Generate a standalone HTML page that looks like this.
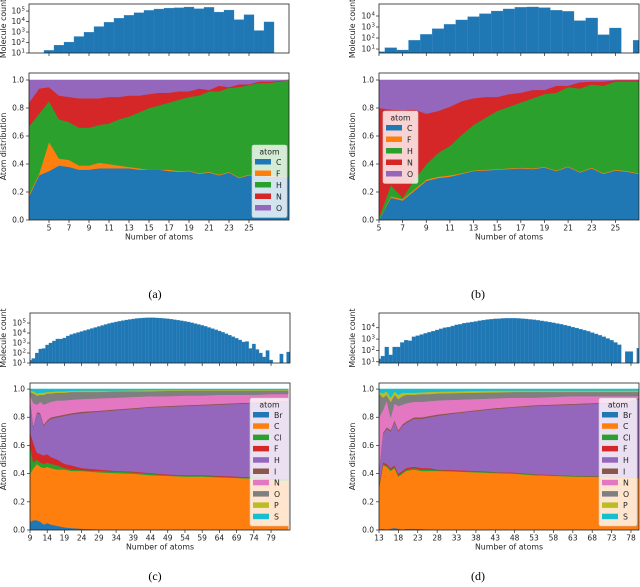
<!DOCTYPE html>
<html><head><meta charset="utf-8"><style>
html,body{margin:0;padding:0;background:#fff;}
svg{display:block;font-family:"DejaVu Sans","Liberation Sans",sans-serif;}
.cap{font-family:"Liberation Serif",serif;font-size:12px;}
</style></head><body>
<svg id="fig" width="640" height="587" viewBox="0 0 640 587" xmlns="http://www.w3.org/2000/svg"></svg>
<script>
// ===== Panel (a) data =====
const aHistX = [5,6,7,8,9,10,11,12,13,14,15,16,17,18,19,20,21,22,23,24,25,26,27];
const aHistLog = [1.25,1.75,2.04,2.57,2.98,3.52,3.93,4.31,4.59,4.84,5.06,5.19,5.28,5.31,5.38,5.22,5.35,4.9,5.09,4.18,4.65,3.14,3.96];
const aX = [3,4,5,6,7,8,9,10,11,12,13,14,15,16,17,18,19,20,21,22,23,24,25,26,27,28,29];
const aTopC = [.17,.32,.35,.39,.38,.36,.36,.37,.37,.37,.37,.36,.36,.36,.35,.345,.35,.33,.34,.32,.34,.30,.32,.32,.31,.31,.31];
const aTopF = [.18,.33,.56,.44,.43,.39,.39,.41,.40,.39,.38,.37,.36,.36,.36,.35,.355,.335,.345,.325,.345,.305,.325,.325,.315,.315,.31];
const aTopH = [.67,.76,.85,.72,.70,.66,.66,.68,.69,.72,.74,.77,.80,.82,.84,.86,.88,.89,.92,.92,.945,.95,.965,.98,.98,.99,1.0];
const aTopN = [.84,.94,.95,.89,.88,.87,.87,.87,.88,.88,.89,.89,.90,.91,.91,.92,.92,.94,.93,.96,.95,.97,.97,.99,.99,.995,1.0];
const aTopO = aX.map(()=>1);
// ===== Panel (b) data =====
const bHistX = [5,6,7,8,9,10,11,12,13,14,15,16,17,18,19,20,21,22,23,24,25,26,27];
const bHistLog = [0.76,1.12,0.91,1.79,2.33,2.85,3.24,3.64,3.94,4.21,4.45,4.64,4.79,4.82,4.76,4.52,4.42,3.58,3.82,2.30,2.91,null,1.79];
const bX = [5,6,7,8,9,10,11,12,13,14,15,16,17,18,19,20,21,22,23,24,25,26,27];
const bTopC = [0,.16,.14,.21,.28,.30,.31,.33,.35,.355,.36,.365,.37,.365,.375,.35,.38,.34,.37,.33,.355,.345,.33];
const bTopF = [0,.17,.15,.22,.29,.31,.32,.335,.355,.36,.365,.37,.375,.37,.38,.355,.385,.345,.375,.335,.36,.35,.335];
const bTopH = [.02,.25,.16,.29,.40,.48,.53,.61,.68,.73,.78,.81,.84,.87,.90,.91,.95,.94,.97,.96,.99,.99,.99];
const bTopN = [.80,.79,.785,.79,.76,.78,.81,.85,.87,.88,.88,.90,.91,.93,.93,.96,.96,.985,.99,.99,1.0,1.0,1.0];
const bTopO = bX.map(()=>1);
// ===== Panel (c) data =====
const cHistX = [9,10,11,12,13,14,15,16,17,18,19,20,21,22,23,24,25,26,27,28,29,30,31,32,33,34,35,36,37,38,39,40,41,42,43,44,45,46,47,48,49,50,51,52,53,54,55,56,57,58,59,60,61,62,63,64,65,66,67,68,69,70,71,72,73,74,75,76,77,78,79,80,81,82,83,84];
const cHistLog = [1.27,1.45,2.0,2.4,2.45,2.8,3.0,3.2,3.4,3.4,3.5,3.7,3.85,3.95,4.05,4.15,4.25,4.35,4.45,4.55,4.65,4.75,4.85,4.95,5.03,5.1,5.17,5.24,5.3,5.35,5.4,5.45,5.48,5.5,5.52,5.53,5.52,5.5,5.48,5.45,5.42,5.38,5.33,5.28,5.22,5.16,5.1,5.02,4.94,4.85,4.76,4.66,4.55,4.44,4.32,4.2,4.07,3.93,3.78,3.63,3.47,3.3,3.1,3.15,2.45,2.9,2.35,2.0,1.6,2.25,1.3,null,null,1.9,null,2.1];
const cX = [9,10,11,12,13,14,15,17,19,21,24,29,34,39,44,49,54,59,64,69,74,79,84];
const cTopBr = [.06,.07,.07,.06,.04,.05,.04,.03,.02,.015,.01,.006,.004,.002,.001,0,0,0,0,0,0,0,0];
const cTopC = [.40,.44,.47,.45,.44,.45,.44,.43,.43,.42,.42,.41,.405,.40,.39,.385,.38,.38,.375,.37,.365,.355,.35];
const cTopCl = [.60,.48,.50,.48,.47,.48,.47,.46,.44,.43,.425,.42,.415,.41,.40,.39,.385,.385,.38,.375,.37,.36,.355];
const cTopF = [.70,.62,.55,.54,.53,.54,.52,.50,.47,.46,.44,.43,.42,.415,.405,.395,.39,.39,.385,.38,.375,.365,.36];
const cTopH = [.93,.73,.83,.82,.74,.77,.79,.80,.81,.82,.83,.84,.85,.86,.87,.875,.88,.885,.89,.895,.90,.905,.91];
const cTopI = [.94,.74,.84,.83,.75,.78,.80,.81,.82,.83,.84,.847,.857,.866,.876,.881,.886,.891,.896,.901,.906,.911,.916];
const cTopN = [.96,.90,.89,.91,.89,.90,.91,.92,.92,.925,.93,.935,.94,.945,.95,.95,.955,.955,.96,.96,.96,.965,.965];
const cTopO = [.98,.97,.955,.96,.96,.97,.97,.975,.975,.98,.98,.98,.985,.985,.985,.988,.99,.99,.99,.99,.99,.99,.99];
const cTopP = [.99,.985,.97,.975,.975,.98,.98,.985,.985,.988,.99,.99,.99,.992,.993,.994,.995,.995,.995,.995,.995,.995,.995];
const cTopS = cX.map(()=>1);
// ===== Panel (d) data =====
const dHistX = [13,14,15,16,17,18,19,20,21,22,23,24,25,26,27,28,29,30,31,32,33,34,35,36,37,38,39,40,41,42,43,44,45,46,47,48,49,50,51,52,53,54,55,56,57,58,59,60,61,62,63,64,65,66,67,68,69,70,71,72,73,74,75,76,77,78,79,80];
const dHistLog = [1.25,1.5,2.3,1.6,2.3,2.3,2.7,2.9,2.85,3.2,3.3,3.4,3.5,3.6,3.7,3.8,3.9,4.0,4.05,4.15,4.25,4.3,4.4,4.45,4.5,4.55,4.62,4.67,4.72,4.75,4.78,4.8,4.82,4.83,4.83,4.83,4.82,4.8,4.77,4.73,4.7,4.65,4.6,4.55,4.5,4.43,4.37,4.3,4.22,4.15,4.05,3.97,3.87,3.78,3.68,3.57,3.45,3.33,3.2,3.05,2.9,2.7,2.5,null,1.9,1.9,null,2.2];
const dX = [13,14,15,16,17,18,19,20,22,24,26,28,33,38,43,48,53,58,63,68,73,78,80];
const dTopBr = [.005,.01,.005,.01,.015,.01,.005,.01,.01,.008,.005,.003,.002,.001,0,0,0,0,0,0,0,0,0];
const dTopC = [.30,.46,.45,.42,.44,.38,.40,.42,.43,.42,.42,.42,.415,.41,.405,.40,.39,.385,.38,.378,.375,.37,.37];
const dTopCl = [.31,.47,.46,.43,.45,.39,.41,.43,.44,.43,.43,.425,.42,.415,.41,.405,.395,.39,.384,.382,.379,.374,.373];
const dTopF = [.33,.48,.47,.44,.46,.40,.42,.44,.45,.44,.44,.43,.425,.42,.413,.408,.398,.392,.386,.384,.381,.376,.375];
const dTopH = [.42,.68,.72,.70,.77,.70,.74,.76,.79,.79,.80,.81,.83,.845,.86,.87,.88,.885,.89,.895,.90,.91,.93];
const dTopI = [.43,.69,.73,.71,.78,.71,.75,.77,.80,.80,.81,.82,.836,.851,.866,.876,.886,.891,.896,.901,.906,.916,.936];
const dTopN = [.80,.85,.92,.80,.90,.88,.89,.90,.91,.91,.915,.92,.925,.93,.935,.94,.94,.945,.95,.95,.95,.95,.95];
const dTopO = [.97,.94,.96,.91,.96,.93,.95,.96,.96,.965,.965,.97,.972,.975,.977,.98,.98,.98,.98,.98,.98,.98,.98];
const dTopP = [.98,.97,.985,.94,.985,.96,.975,.975,.975,.978,.98,.982,.985,.988,.99,.99,.99,.99,.99,.99,.99,.99,.99];
const dTopS = dX.map(()=>1);
const distTicks = [0,0.2,0.4,0.6,0.8,1.0];

const NS = "http://www.w3.org/2000/svg";
const svg = document.getElementById('fig');
function mk(tag, attrs, parent){
  const e = document.createElementNS(NS, tag);
  for (const k in attrs) e.setAttribute(k, attrs[k]);
  (parent||svg).appendChild(e);
  return e;
}
const COL = {Br:'#1f77b4',C:'#ff7f0e',Cl:'#2ca02c',F:'#d62728',H:'#9467bd',I:'#8c564b',N:'#e377c2',O:'#7f7f7f',P:'#bcbd22',S:'#17becf'};
const COL5 = {C:'#1f77b4',F:'#ff7f0e',H:'#2ca02c',N:'#d62728',O:'#9467bd'};

function panel(p){
  const g = mk('g', {});
  
  
  const sx = v => p.L + (v - p.x0) / (p.x1 - p.x0) * (p.R - p.L);
  const sh = v => p.hB - (v - p.lg0) / (p.lg1 - p.lg0) * (p.hB - p.hT);
  const sd = v => p.dB - v / p.yMax * (p.dB - p.dT);
  const cp = mk('clipPath', {id:'clipH'+p.id}, g);
  mk('rect', {x:p.L, y:p.hT, width:p.R-p.L, height:p.hB-p.hT}, cp);
  const cp2 = mk('clipPath', {id:'clipD'+p.id}, g);
  mk('rect', {x:p.L, y:p.dT, width:p.R-p.L, height:p.dB-p.dT}, cp2);
  const hg = mk('g', {'clip-path':'url(#clipH'+p.id+')'}, g);
  
  
  p.hx.forEach((x,i)=>{
    const v = p.hv[i];
    if (v === null) return;
    const x0 = sx(x-0.5), x1 = sx(x+0.5), y = sh(v);
    const r = mk('rect', {x:x0, y:y, width:x1-x0, height:p.hB-y, fill:'#1f77b4', stroke:'#3a87c0', 'stroke-width':0.3}, hg);
    
    
  });
  mk('rect', {x:p.L, y:p.hT, width:p.R-p.L, height:p.hB-p.hT, fill:'none', stroke:'#222', 'stroke-width':0.8}, g);
  p.logTicks.forEach(e=>{
    const y = sh(e);
    mk('line', {x1:p.L-3, x2:p.L, y1:y, y2:y, stroke:'#222', 'stroke-width':0.7}, g);
    const t = mk('text', {x:p.L-8, y:y+2.5, 'font-size':7.5, 'text-anchor':'end', fill:'#222'}, g);
    t.textContent = '10';
    const s = mk('text', {x:p.L-4, y:y-0.5, 'font-size':5.5, 'text-anchor':'end', fill:'#222'}, g);
    s.textContent = String(e);
  });
  const dg = mk('g', {'clip-path':'url(#clipD'+p.id+')'}, g);
  
  
  let prev = p.dx.map(()=>0);
  p.series.forEach(s=>{
    const top = s.vals;
    let d = '';
    p.dx.forEach((x,i)=>{ d += (i?'L':'M') + sx(x).toFixed(2) + ',' + sd(top[i]).toFixed(2); });
    for (let i=p.dx.length-1;i>=0;i--) d += 'L' + sx(p.dx[i]).toFixed(2) + ',' + sd(prev[i]).toFixed(2);
    d += 'Z';
    const pa = mk('path', {d:d, fill:s.c, stroke:s.c, 'stroke-width':0.6, 'stroke-linejoin':'round'}, dg);
    
    
    prev = top;
  });
  mk('rect', {x:p.L, y:p.dT, width:p.R-p.L, height:p.dB-p.dT, fill:'none', stroke:'#222', 'stroke-width':0.8}, g);
  distTicks.forEach(v=>{
    const y = sd(v);
    mk('line', {x1:p.L-3, x2:p.L, y1:y, y2:y, stroke:'#222', 'stroke-width':0.7}, g);
    const t = mk('text', {x:p.L-5, y:y+2.5, 'font-size':7.5, 'text-anchor':'end', fill:'#222'}, g);
    t.textContent = v.toFixed(1);
  });
  for (let v=p.t0; v<=p.t1; v+=p.ts){
    const x = sx(v);
    mk('line', {x1:x, x2:x, y1:p.dB, y2:p.dB+3, stroke:'#222', 'stroke-width':0.7}, g);
    mk('line', {x1:x, x2:x, y1:p.hB, y2:p.hB+3, stroke:'#222', 'stroke-width':0.7}, g);
    const t = mk('text', {x:x, y:p.dB+10.5, 'font-size':7.5, 'text-anchor':'middle', fill:'#222'}, g);
    t.textContent = String(v);
  }
  const xl = mk('text', {x:(p.L+p.R)/2, y:p.dB+19.5, 'font-size':7.8, 'text-anchor':'middle', fill:'#222'}, g);
  
  
  xl.textContent = 'Number of atoms';
  const yl1 = mk('text', {x:0, y:0, 'font-size':7.8, 'text-anchor':'middle', fill:'#222', transform:'translate('+p.ylx+','+((p.hT+p.hB)/2)+') rotate(-90)'}, g);
  
  
  yl1.textContent = 'Molecule count';
  const yl2 = mk('text', {x:0, y:0, 'font-size':7.8, 'text-anchor':'middle', fill:'#222', transform:'translate('+p.ylx+','+((p.dT+p.dB)/2)+') rotate(-90)'}, g);
  
  
  yl2.textContent = 'Atom distribution';
  const lg = mk('g', {}, g);
  
  
  const n = p.series.length;
  const h = 15 + n*p.lsp;
  mk('rect', {x:p.lx, y:p.ly, width:p.lw, height:h, rx:2, fill:'#fff', 'fill-opacity':0.8, stroke:'#ccc', 'stroke-width':0.6}, lg);
  const tt = mk('text', {x:p.lx+p.lw/2, y:p.ly+9.5, 'font-size':7.8, 'text-anchor':'middle', fill:'#222'}, lg);
  tt.textContent = 'atom';
  p.series.forEach((s,i)=>{
    const y = p.ly + 14 + i*p.lsp;
    const e = mk('g', {}, lg);
    
    
    mk('rect', {x:p.lx+3, y:y, width:16, height:5.5, fill:s.c}, e);
    const t = mk('text', {x:p.lx+24, y:y+5.8, 'font-size':7.8, fill:'#222'}, e);
    t.textContent = s.n;
  });
  const cap = mk('text', {x:p.capx, y:p.capy, 'text-anchor':'middle', class:'cap', fill:'#000'}, g);
  
  
  cap.textContent = '(' + p.id + ')';
}

panel({id:'a', L:29, R:289, hT:4, hB:53, lg0:1, lg1:5.67, dT:73, dB:220, yMax:1.05, x0:3, x1:29,
  t0:5, t1:25, ts:2, logTicks:[1,2,3,4,5], hx:aHistX, hv:aHistLog, dx:aX, ylx:6,
  series:[{n:'C',c:COL5.C,vals:aTopC},{n:'F',c:COL5.F,vals:aTopF},{n:'H',c:COL5.H,vals:aTopH},{n:'N',c:COL5.N,vals:aTopN},{n:'O',c:COL5.O,vals:aTopO}],
  lx:252, ly:145, lw:35, lsp:11.5, capx:155, capy:298});
panel({id:'b', L:379, R:639, hT:4, hB:53, lg0:0.64, lg1:5.09, dT:73, dB:220, yMax:1.05, x0:5, x1:27,
  t0:5, t1:25, ts:2, logTicks:[1,2,3,4], hx:bHistX, hv:bHistLog, dx:bX, ylx:355,
  series:[{n:'C',c:COL5.C,vals:bTopC},{n:'F',c:COL5.F,vals:bTopF},{n:'H',c:COL5.H,vals:bTopH},{n:'N',c:COL5.N,vals:bTopN},{n:'O',c:COL5.O,vals:bTopO}],
  lx:383, ly:111, lw:35, lsp:11.5, capx:478, capy:298});
panel({id:'c', L:30, R:290, hT:313, hB:363, lg0:1, lg1:6.0, dT:383, dB:530, yMax:1.043, x0:9, x1:84.5,
  t0:9, t1:79, ts:5, logTicks:[1,2,3,4,5], hx:cHistX, hv:cHistLog, dx:cX, ylx:6,
  series:[{n:'Br',c:COL.Br,vals:cTopBr},{n:'C',c:COL.C,vals:cTopC},{n:'Cl',c:COL.Cl,vals:cTopCl},{n:'F',c:COL.F,vals:cTopF},{n:'H',c:COL.H,vals:cTopH},{n:'I',c:COL.I,vals:cTopI},{n:'N',c:COL.N,vals:cTopN},{n:'O',c:COL.O,vals:cTopO},{n:'P',c:COL.P,vals:cTopP},{n:'S',c:COL.S,vals:cTopS}],
  lx:250, ly:398, lw:39, lsp:11.3, capx:155, capy:580});
panel({id:'d', L:379, R:639, hT:313, hB:363, lg0:0.89, lg1:5.3, dT:383, dB:530, yMax:1.043, x0:13, x1:80.07,
  t0:13, t1:78, ts:5, logTicks:[1,2,3,4], hx:dHistX, hv:dHistLog, dx:dX, ylx:355,
  series:[{n:'Br',c:COL.Br,vals:dTopBr},{n:'C',c:COL.C,vals:dTopC},{n:'Cl',c:COL.Cl,vals:dTopCl},{n:'F',c:COL.F,vals:dTopF},{n:'H',c:COL.H,vals:dTopH},{n:'I',c:COL.I,vals:dTopI},{n:'N',c:COL.N,vals:dTopN},{n:'O',c:COL.O,vals:dTopO},{n:'P',c:COL.P,vals:dTopP},{n:'S',c:COL.S,vals:dTopS}],
  lx:599, ly:398, lw:38, lsp:11.3, capx:478, capy:580});
</script>
</body></html>
